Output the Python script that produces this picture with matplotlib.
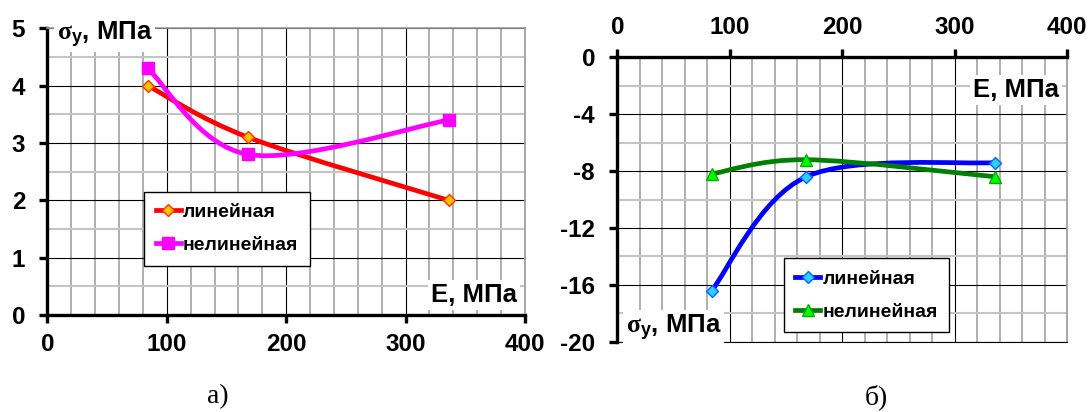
import numpy as np
import matplotlib
matplotlib.use("Agg")
import matplotlib.pyplot as plt
from matplotlib.path import Path
from matplotlib.patches import PathPatch
from matplotlib.lines import Line2D
from matplotlib.ticker import MultipleLocator

plt.rcParams["font.family"] = ["Liberation Sans", "DejaVu Sans"]
plt.rcParams["font.weight"] = "bold"
plt.rcParams["axes.unicode_minus"] = False
plt.rcParams["mathtext.fontset"] = "custom"
plt.rcParams["mathtext.rm"] = "Liberation Serif"
plt.rcParams["mathtext.it"] = "Liberation Serif:italic"
plt.rcParams["mathtext.bf"] = "Liberation Sans:bold"

# ---- data -------------------------------------------------------------
E_mpa = [84, 168, 336]
sig_a_linear = [4.0, 3.1, 2.0]
sig_a_nonlinear = [4.3, 2.8, 3.4]
sig_b_linear = [-16.4, -8.4, -7.4]
sig_b_nonlinear = [-8.2, -7.2, -8.4]
series_names = ["линейная", "нелинейная"]
x_ticks = [0, 100, 200, 300, 400]
y_ticks_a = [0, 1, 2, 3, 4, 5]
y_ticks_b = [0, -4, -8, -12, -16, -20]
panel_captions = ["а)", "б)"]
x_title = "E, МПа"
y_title = r"$\mathrm{\sigma}_{\mathbf{y}}$, МПа"


def smooth_path(xs, ys):
    """Cardinal (Catmull-Rom) spline through the points as cubic Beziers."""
    pts = np.column_stack([xs, ys]).astype(float)
    n = len(pts)
    verts = [pts[0]]
    codes = [Path.MOVETO]
    for i in range(n - 1):
        p0 = pts[max(i - 1, 0)]
        p1 = pts[i]
        p2 = pts[i + 1]
        p3 = pts[min(i + 2, n - 1)]
        c1 = p1 + (p2 - p0) / 6.0
        c2 = p2 - (p3 - p1) / 6.0
        verts += [c1, c2, p2]
        codes += [Path.CURVE4] * 3
    return Path(verts, codes)


def draw_series(ax, xs, ys, color, marker, mfc, mec, ms):
    ax.add_patch(PathPatch(smooth_path(xs, ys), fill=False, edgecolor=color,
                           lw=3.4, capstyle="round", joinstyle="round", zorder=3))
    ax.plot(xs, ys, ls="none", marker=marker, ms=ms, mfc=mfc, mec=mec,
            mew=1.0, zorder=4)
    return Line2D([], [], color=color, lw=3.4, marker=marker, ms=ms,
                  mfc=mfc, mec=mec, mew=1.0)


def style_axes(ax, yticks, ymin, ymax, yminor):
    ax.set_xlim(0, 400)
    ax.set_ylim(ymin, ymax)
    ax.set_xticks(x_ticks)
    ax.set_yticks(yticks)
    ax.xaxis.set_minor_locator(MultipleLocator(20))
    ax.yaxis.set_minor_locator(MultipleLocator(yminor))
    ax.set_axisbelow(True)
    ax.grid(which="major", color="black", lw=0.8)
    ax.grid(which="minor", axis="x", color="#9a9a9a", lw=1.1)
    ax.grid(which="minor", axis="y", color="#c4c4c4", lw=1.5)
    ax.tick_params(which="minor", length=0)
    ax.tick_params(which="major", direction="out", length=6, width=2.4,
                   color="black")
    ax.tick_params(axis="x", which="major", labelsize=17.5, pad=7)
    ax.tick_params(axis="y", which="major", labelsize=17.5, pad=10)
    for lab in ax.get_xticklabels() + ax.get_yticklabels():
        lab.set_fontweight("bold")


fig = plt.figure(figsize=(10.91, 4.12), dpi=100)
fig.patch.set_facecolor("white")

legend_kw = dict(loc="upper left", borderaxespad=0, fancybox=False, framealpha=1,
                 edgecolor="black", prop={"weight": "bold", "size": 14},
                 handlelength=1.3, handletextpad=0.1, borderpad=0.6,
                 labelspacing=0.8)
box = dict(facecolor="white", edgecolor="none", pad=2)

# ---- panel а -----------------------------------------------------------
ax1 = fig.add_axes([0.0435, 0.2354, 0.4377, 0.6959])
style_axes(ax1, y_ticks_a, 0, 5, 0.5)
for side in ("left", "bottom"):
    ax1.spines[side].set_linewidth(2.4)
    ax1.spines[side].set_color("black")
for side in ("top", "right"):
    ax1.spines[side].set_linewidth(1.2)
    ax1.spines[side].set_color("#9a9a9a")

h1 = draw_series(ax1, E_mpa, sig_a_linear, "#ff0000", "D", "#ffc000", "#ff3300", 6.5)
h2 = draw_series(ax1, E_mpa, sig_a_nonlinear, "#ff00ff", "s", "#ff00ff", "#ff00ff", 8)
leg1 = ax1.legend([h1, h2], series_names, bbox_to_anchor=(0.202, 0.430), **legend_kw)
leg1.get_frame().set_linewidth(1.0)

ax1.text(0.02, 0.959, y_title, transform=ax1.transAxes, ha="left", va="baseline",
         fontsize=18.5, fontweight="bold", bbox=box, zorder=5)
ax1.text(0.983, 0.045, x_title, transform=ax1.transAxes, ha="right", va="baseline",
         fontsize=18.5, fontweight="bold", bbox=box, zorder=5)

# ---- panel б -----------------------------------------------------------
ax2 = fig.add_axes([0.5658, 0.1706, 0.4122, 0.6903])
style_axes(ax2, y_ticks_b, -20, 0, 2)
ax2.xaxis.tick_top()
for side in ("left", "top"):
    ax2.spines[side].set_linewidth(2.4)
    ax2.spines[side].set_color("black")
ax2.spines["right"].set_linewidth(1.2)
ax2.spines["right"].set_color("#9a9a9a")
ax2.spines["bottom"].set_linewidth(0.8)
ax2.spines["bottom"].set_color("black")

h3 = draw_series(ax2, E_mpa, sig_b_linear, "#0000ff", "D", "#33ccff", "#0066ff", 6.5)
h4 = draw_series(ax2, E_mpa, sig_b_nonlinear, "#008000", "^", "#00ff00", "#00b000", 8)
leg2 = ax2.legend([h3, h4], series_names, bbox_to_anchor=(0.3696, 0.2933), **legend_kw)
leg2.get_frame().set_linewidth(1.0)

ax2.text(0.9816, 0.860, x_title, transform=ax2.transAxes, ha="right", va="baseline",
         fontsize=18.5, fontweight="bold", bbox=box, zorder=5)
ax2.text(0.019, 0.0295, y_title, transform=ax2.transAxes, ha="left", va="baseline",
         fontsize=18.5, fontweight="bold", bbox=box, zorder=5)

# ---- panel captions ----------------------------------------------------
fig.text(218 / 1091, 1 - 397 / 412, panel_captions[0], family="Liberation Serif",
         fontweight="normal", fontsize=20, ha="center", va="center")
fig.text(876 / 1091, 1 - 397 / 412, panel_captions[1], family="Liberation Serif",
         fontweight="normal", fontsize=20, ha="center", va="center")

fig.savefig("out.png", dpi=100, facecolor="white")
